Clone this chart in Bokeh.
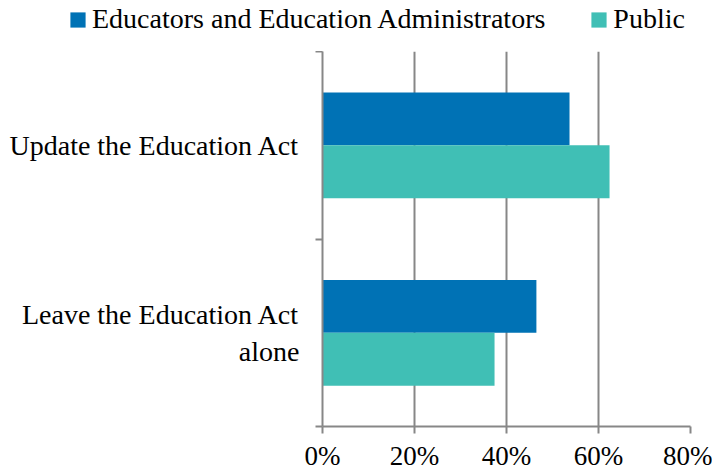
from bokeh.plotting import figure
from bokeh.layouts import column
from bokeh.models import (Range1d, LinearAxis, FixedTicker, PrintfTickFormatter, Legend,
                          LegendItem, ColumnDataSource)
from bokeh.embed import file_html
from bokeh.resources import INLINE

categories = ["Leave the Education Act alone", "Update the Education Act"]
category_labels = ["Leave the Education Act\nalone", "Update the Education Act"]
educators = [46.5, 53.7]
public = [37.4, 62.4]
x_ticks = [0, 20, 40, 60, 80]
series_names = ["Educators and Education Administrators", "Public"]
colors = ["#0072B5", "#40BFB5"]

FONT = "Liberation Serif"
GRAY = "#878787"
BAR_H = 0.282

n = len(categories)
centers = [i + 0.5 for i in range(n)]
src = ColumnDataSource(dict(cat=categories,
                            y_edu=[c + BAR_H / 2 for c in centers],
                            y_pub=[c - BAR_H / 2 for c in centers],
                            edu=educators, pub=public))

p = figure(width=712, height=423, output_backend="svg", toolbar_location=None,
           x_range=Range1d(0, 80), y_range=Range1d(0, n),
           y_axis_location=None, min_border_left=322, min_border_right=22,
           min_border_top=0, min_border_bottom=48, outline_line_color=None)

p.hbar(y="y_edu", right="edu", left=0, height=BAR_H, source=src,
       color=colors[0], line_color=None)
p.hbar(y="y_pub", right="pub", left=0, height=BAR_H, source=src,
       color=colors[1], line_color=None)

# x axis
xa = p.xaxis[0]
xa.ticker = FixedTicker(ticks=x_ticks)
xa.formatter = PrintfTickFormatter(format="%d%%")
xa.axis_line_color = GRAY
xa.axis_line_width = 2
xa.major_tick_line_color = GRAY
xa.major_tick_line_width = 2
xa.major_tick_in = 0
xa.major_tick_out = 7
xa.minor_tick_line_color = None
xa.major_label_text_font = FONT
xa.major_label_text_font_size = "27px"
xa.major_label_text_color = "#000000"
xa.major_label_standoff = 7

p.ygrid.grid_line_color = None
p.xgrid.ticker = FixedTicker(ticks=x_ticks)
p.xgrid.grid_line_color = GRAY
p.xgrid.grid_line_width = 2

# y axis with ticks at category edges
edges = list(range(n + 1))
ya_ticks = LinearAxis(ticker=FixedTicker(ticks=edges),
                      axis_line_color=GRAY, axis_line_width=2,
                      major_tick_line_color=GRAY, major_tick_line_width=2,
                      major_tick_in=0, major_tick_out=7, minor_tick_line_color=None,
                      major_label_overrides={e: "" for e in edges}, major_label_standoff=0)
p.add_layout(ya_ticks, "left")

ya_labels = LinearAxis(ticker=FixedTicker(ticks=centers),
                       axis_line_color=None, major_tick_line_color=None, minor_tick_line_color=None,
                       major_label_text_font=FONT, major_label_text_font_size="28px",
                       major_label_text_color="#000000", major_label_standoff=10,
                       major_label_overrides=dict(zip(centers, category_labels)))
p.add_layout(ya_labels, "left")

# legend strip above the chart (its own frame spans the full width)
lg = figure(width=712, height=51, output_backend="svg", toolbar_location=None,
            x_range=Range1d(0, 80), y_range=Range1d(10, 11), x_axis_location=None,
            y_axis_location=None, min_border=0, outline_line_color=None)
lg.grid.visible = False
l1 = lg.hbar(y="y_edu", right="edu", left=0, height=BAR_H, source=src,
             color=colors[0], line_color=None)
l2 = lg.hbar(y="y_pub", right="pub", left=0, height=BAR_H, source=src,
             color=colors[1], line_color=None)
legend = Legend(items=[LegendItem(label=series_names[0], renderers=[l1], index=0),
                       LegendItem(label=series_names[1], renderers=[l2], index=0)],
                location=(68, 16), orientation="horizontal",
                label_text_font=FONT, label_text_font_size="28px", label_text_color="#000000",
                glyph_width=19, glyph_height=19, label_standoff=5, spacing=44,
                padding=0, margin=0, border_line_color=None, background_fill_alpha=0)
lg.add_layout(legend, "center")

for f in (lg, p):
    if "frame_align" in f.properties():
        f.frame_align = False

open("out.html", "w").write(file_html(column(lg, p, spacing=0), INLINE))
